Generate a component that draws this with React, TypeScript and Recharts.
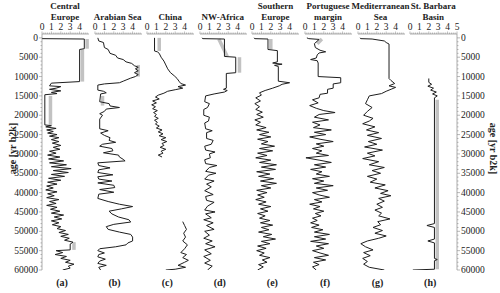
import { LineChart, Line, XAxis, YAxis } from "recharts"

// [age in yr b2k, value]
type Pt = [number, number]

const titles = [
  ["Central", "Europe"],
  ["", "Arabian Sea"],
  ["", "China"],
  ["", "NW-Africa"],
  ["Southern", "Europe"],
  ["Portuguese", "margin"],
  ["Mediterranean", "Sea"],
  ["St. Barbara", "Basin"],
]
const panelLetters = ["(a)", "(b)", "(c)", "(d)", "(e)", "(f)", "(g)", "(h)"]

const valueTicks = [0, 0.2, 0.4, 0.6, 0.8, 1, 1.2, 1.4, 1.6, 1.8, 2, 2.2, 2.4, 2.6, 2.8, 3, 3.2, 3.4, 3.6, 3.8, 4, 4.2, 4.4, 4.6, 4.8]
const valueTicksH = [...valueTicks, 5]
const ageMajor = [0, 5000, 10000, 15000, 20000, 25000, 30000, 35000, 40000, 45000, 50000, 55000, 60000]

const centralEurope: Pt[] = [
  [0, 0], [200, 0], [300, 4.5], [2800, 4.5], [3000, 4.0], [11300, 4.0], [11700, 1.0], [12400, 0.8], [12600, 2.0],
  [13000, 1.5], [13300, 0.8], [13700, 2.0], [14100, 1.0], [14400, 1.6], [14700, 0.3], [22500, 0.3], [22700, 1.0],
  [23000, 0.4], [23400, 1.5], [23800, 0.5], [24200, 1.2], [24600, 0.6], [25000, 1.6], [25400, 0.8], [25800, 1.8],
  [26300, 1.0], [26800, 1.8], [27200, 1.1], [27800, 2.0], [28300, 1.2], [28800, 1.9], [29300, 0.8], [29800, 1.5],
  [30300, 0.6], [30800, 1.9], [31300, 0.7], [31800, 2.3], [32300, 0.8], [32800, 2.6], [33300, 1.0], [33800, 3.1],
  [34300, 1.2], [34800, 2.8], [35300, 1.0], [35800, 2.4], [36300, 0.7], [36800, 2.0], [37300, 0.6], [37800, 1.6],
  [38300, 0.5], [38800, 1.2], [39300, 0.4], [39800, 1.6], [40300, 0.6], [40800, 1.3], [41300, 0.5], [41800, 1.8],
  [42300, 0.8], [42800, 1.5], [43300, 0.5], [43800, 1.6], [44300, 0.9], [44800, 1.9], [45300, 1.0], [45800, 2.3],
  [46300, 1.3], [46800, 2.1], [47300, 1.0], [47800, 1.8], [48300, 1.1], [48800, 2.0], [49300, 1.6], [49800, 2.5],
  [50300, 1.8], [50800, 2.8], [51300, 2.0], [51800, 2.9], [52300, 2.4], [52800, 3.3], [53300, 3.0], [54800, 3.0],
  [55000, 1.5], [55500, 2.2], [56000, 1.4], [56500, 2.6], [57000, 2.0], [57500, 3.0], [58000, 2.5], [58500, 3.4],
  [59000, 2.8], [59500, 3.0], [60000, 2.2],
]

const arabianSea: Pt[] = [
  [0, 0.3], [800, 0.4], [1200, 0.9], [2500, 1.0], [3000, 1.4], [4000, 1.6], [4500, 2.2], [5200, 2.4], [5600, 3.0],
  [6200, 3.3], [6600, 3.9], [7200, 4.2], [7600, 4.6], [8000, 4.3], [8500, 4.6], [9000, 4.2], [9500, 4.6], [10000, 4.3],
  [10400, 3.8], [10800, 3.4], [11200, 3.0], [11600, 2.6], [11900, 1.0], [12200, 0.3], [13500, 0.3], [13800, 0.9],
  [14200, 1.2], [14500, 0.6], [16500, 0.5], [17000, 1.5], [17600, 1.6], [18000, 2.6], [18400, 1.2], [19000, 1.0],
  [19600, 0.5], [20000, 0.8], [21000, 0.5], [23500, 0.5], [24000, 1.4], [24600, 0.6], [25200, 1.0], [25800, 1.6],
  [26500, 1.5], [27000, 2.2], [27500, 0.8], [28000, 0.5], [28600, 1.8], [29200, 1.9], [29700, 0.9], [30300, 2.5],
  [30800, 2.6], [31400, 3.0], [31800, 3.2], [32300, 0.3], [33000, 0.4], [33600, 1.6], [34100, 0.4], [34800, 0.3],
  [35400, 1.9], [35900, 0.3], [36500, 0.4], [37000, 1.8], [37500, 0.3], [38100, 2.0], [38700, 2.1], [39200, 0.5],
  [39900, 2.0], [40400, 0.4], [41500, 0.3], [42300, 1.4], [43000, 2.6], [43600, 4.0], [44200, 2.8], [44800, 1.5],
  [45500, 1.8], [46300, 2.5], [47000, 3.6], [47600, 3.8], [48200, 2.0], [48800, 1.2], [49500, 1.4], [50200, 2.6],
  [50800, 3.8], [51500, 4.0], [52500, 4.0], [53000, 3.5], [53500, 3.3], [54000, 2.2], [54500, 0.5], [55000, 0.3],
  [55600, 1.0], [56000, 0.4], [56600, 0.3], [57200, 1.1], [57700, 0.5], [58300, 0.3], [58800, 1.2], [59300, 0.4],
  [60000, 0.6],
]

const chinaUpper: Pt[] = [
  [0, 0.8], [3400, 0.8], [3600, 1.1], [4000, 1.3], [5000, 1.5], [6000, 1.8], [7000, 2.0], [8000, 2.2], [9000, 2.5],
  [9800, 2.9], [10500, 3.2], [11200, 3.4], [11800, 3.6], [12200, 4.1], [12600, 3.3], [13000, 3.8], [13400, 3.0],
  [13800, 2.2], [14300, 1.8], [14800, 1.2], [15300, 0.9], [15800, 1.3], [16300, 0.6], [16800, 1.0], [17300, 0.5],
  [17800, 0.9], [18300, 0.6], [18800, 1.1], [19300, 0.7], [19800, 1.0], [20300, 0.8], [20800, 1.2], [21300, 0.8],
  [21800, 1.1], [22300, 0.9], [22800, 1.3], [23300, 1.0], [23800, 1.6], [24300, 1.2], [24800, 1.7], [25300, 1.3],
  [25800, 2.0], [26300, 1.5], [26800, 2.1], [27300, 1.6], [27800, 1.8], [28300, 1.4], [28800, 2.0], [29300, 1.5],
  [29800, 1.7], [30300, 1.2], [30800, 1.6],
]
const chinaLower: Pt[] = [
  [47500, 3.8], [48500, 4.0], [49500, 4.2], [50500, 3.9], [51500, 4.1], [52500, 3.8], [53500, 4.3], [54500, 4.0],
  [55500, 3.6], [56000, 4.2], [56800, 3.8], [57500, 4.4], [58000, 4.0], [58800, 3.3], [59300, 4.1], [59800, 3.0],
  [60000, 2.0],
]

const nwAfrica: Pt[] = [
  [0, 0.2], [200, 0.3], [300, 2.6], [4800, 2.6], [5000, 3.8], [9000, 3.8], [9200, 2.8], [13000, 2.8], [13300, 2.5],
  [13600, 2.9], [14000, 2.6], [14500, 1.5], [15000, 0.6], [16500, 0.5], [17000, 1.0], [18000, 0.8], [18500, 0.4],
  [20000, 0.4], [20500, 1.0], [21500, 0.9], [22000, 0.5], [23500, 0.6], [24000, 1.3], [24500, 0.7], [26000, 0.7],
  [26500, 1.4], [27500, 1.2], [28000, 0.5], [29000, 0.6], [29500, 1.6], [30000, 1.0], [31000, 1.1], [31500, 0.5],
  [32500, 0.6], [33000, 1.8], [33500, 1.0], [34500, 0.6], [35000, 1.7], [35500, 0.9], [36500, 0.5], [37000, 1.5],
  [37800, 0.7], [38500, 1.2], [39500, 0.5], [40500, 1.4], [41000, 0.6], [42000, 0.7], [42500, 1.5], [43500, 0.8],
  [44500, 0.5], [45000, 1.6], [45500, 0.6], [46500, 1.2], [47000, 0.4], [47800, 1.4], [48500, 0.7], [49500, 1.5],
  [50000, 0.5], [51000, 1.0], [51800, 0.4], [52500, 1.3], [53200, 0.6], [54000, 1.6], [54800, 0.5], [55800, 1.2],
  [56500, 0.4], [57500, 1.1], [58200, 0.5], [59000, 1.3], [60000, 0.8],
]

const southernEurope: Pt[] = [
  [0, 0.2], [200, 0.3], [300, 1.7], [3000, 1.7], [3300, 2.7], [6200, 2.7], [6500, 2.2], [6800, 3.2], [7100, 2.4],
  [7400, 2.8], [11200, 2.8], [11600, 4.0], [12000, 3.2], [12400, 2.9], [13000, 2.2], [13600, 1.4], [14200, 0.8],
  [14800, 1.0], [15500, 0.4], [16300, 0.9], [17000, 0.3], [17800, 0.8], [18500, 0.4], [19200, 1.1], [19800, 0.5],
  [20500, 1.2], [21200, 0.3], [21800, 0.9], [22500, 0.4], [23200, 1.5], [23800, 0.5], [24400, 1.8], [25000, 0.8],
  [25600, 2.0], [26200, 0.6], [26800, 1.7], [27400, 1.0], [28000, 2.4], [28600, 0.8], [29200, 2.2], [29800, 0.6],
  [30400, 1.6], [31000, 0.4], [31600, 2.0], [32200, 0.8], [32800, 2.6], [33400, 1.0], [34000, 2.5], [34600, 0.5],
  [35200, 1.9], [35800, 0.7], [36400, 2.3], [37000, 0.9], [37600, 2.6], [38200, 1.0], [38800, 2.0], [39400, 0.5],
  [40000, 1.6], [40600, 0.6], [41200, 1.3], [41800, 0.4], [42400, 1.5], [43000, 0.7], [43600, 2.0], [44200, 0.9],
  [44800, 1.7], [45400, 0.6], [46000, 1.4], [46600, 0.8], [47200, 1.9], [47800, 0.9], [48400, 2.2], [49000, 1.0],
  [49600, 1.8], [50200, 0.7], [50800, 2.1], [51400, 1.2], [52000, 2.5], [52600, 1.0], [53200, 1.9], [53800, 0.6],
  [54400, 1.5], [55000, 0.5], [55600, 1.3], [56200, 0.8], [56800, 1.9], [57400, 1.1], [58000, 1.6], [58600, 0.7],
  [59200, 1.2], [60000, 0.6],
]

const portugueseMargin: Pt[] = [
  [0, 0.2], [200, 0.4], [400, 1.5], [1500, 1.0], [2500, 1.1], [3200, 1.6], [3600, 2.2], [3900, 1.5], [4400, 1.3],
  [5200, 1.2], [5600, 0.6], [5900, 1.3], [6500, 1.4], [10000, 1.4], [10300, 3.8], [11600, 3.8], [11900, 3.0],
  [13000, 3.0], [13300, 2.4], [14300, 2.4], [14600, 1.6], [15500, 1.5], [16000, 0.8], [16800, 1.4], [17500, 0.5],
  [18200, 1.2], [18800, 2.0], [19300, 3.2], [19800, 1.5], [20500, 1.0], [21200, 2.5], [21800, 0.8], [22500, 1.6],
  [23200, 0.9], [23800, 2.8], [24400, 1.0], [25000, 2.2], [25600, 0.5], [26200, 1.6], [26800, 3.0], [27400, 1.2],
  [28000, 2.0], [28600, 0.8], [29200, 1.8], [29800, 1.2], [30400, 2.5], [31000, 0.1], [31600, 1.5], [32200, 2.8],
  [32800, 1.0], [33400, 2.2], [34000, 0.6], [34600, 1.8], [35200, 1.2], [35800, 2.6], [36400, 0.8], [37000, 2.0],
  [37600, 1.0], [38200, 3.0], [38800, 1.2], [39400, 2.4], [40000, 0.8], [40600, 1.5], [41200, 2.6], [41800, 1.0],
  [42400, 1.8], [43000, 0.5], [43600, 1.6], [44200, 0.9], [44800, 2.0], [45400, 1.1], [46000, 1.7], [46600, 0.8],
  [47200, 1.3], [47800, 0.6], [48400, 1.5], [49000, 0.7], [49600, 1.9], [50200, 1.0], [50800, 2.6], [51400, 1.0],
  [52000, 2.2], [52600, 0.6], [53200, 2.5], [53800, 1.2], [54400, 2.0], [55000, 0.8], [55600, 1.6], [56200, 2.5],
  [56800, 1.0], [57400, 2.2], [58000, 0.9], [58600, 1.5], [59200, 0.8], [60000, 1.2],
]

const mediterranean: Pt[] = [
  [0, 0.2], [200, 0.3], [300, 1.5], [800, 2.8], [1200, 3.0], [1600, 3.3], [10500, 3.3], [11000, 3.5], [11800, 3.9],
  [12400, 3.3], [12800, 4.0], [13200, 3.6], [13800, 3.0], [14400, 2.5], [15000, 1.2], [16000, 1.0], [17000, 0.8],
  [18000, 1.5], [19000, 1.0], [20000, 0.6], [20800, 1.6], [21500, 1.2], [22200, 0.5], [23000, 1.8], [23800, 0.9],
  [24500, 2.2], [25200, 1.0], [26000, 2.5], [26800, 1.1], [27500, 2.0], [28200, 0.7], [29000, 2.6], [29800, 1.0],
  [30500, 1.8], [31200, 0.5], [32000, 2.2], [32800, 1.2], [33500, 2.8], [34300, 1.5], [35000, 2.4], [35800, 1.0],
  [36500, 2.0], [37300, 1.3], [38000, 2.9], [38800, 1.8], [39500, 3.2], [40200, 2.4], [40800, 3.5], [41500, 2.2],
  [42200, 2.8], [43000, 2.0], [43800, 2.6], [44500, 1.8], [45300, 2.5], [46000, 2.2], [46800, 3.4], [47500, 2.1],
  [48300, 2.4], [49000, 1.6], [49800, 2.6], [50500, 1.8], [51200, 3.0], [51800, 2.2], [52500, 1.0], [53200, 0.3],
  [54000, 0.8], [54800, 1.6], [55500, 0.6], [56300, 1.3], [57000, 0.5], [57800, 1.0], [58500, 0.6], [59300, 1.2],
  [60000, 2.8],
]

const stBarbara: Pt[] = [
  [10500, 2.0], [11500, 2.0], [12000, 2.3], [12500, 1.9], [13000, 2.5], [13500, 2.2], [14000, 2.8], [14500, 2.4],
  [15000, 2.9], [15500, 2.6], [48000, 2.6], [48500, 1.8], [49000, 2.6], [52000, 2.6], [52500, 1.9], [53000, 2.6],
  [57000, 2.6], [57300, 2.9], [57600, 2.6], [59800, 2.6], [60000, 0.3],
]

// grey uncertainty bands, one short segment each (only the visible parts)
const bandsA: Pt[][] = [[[300, 4.8], [2800, 4.8]], [[3000, 4.3], [11300, 4.3]], [[15000, 0.9], [22500, 0.9]], [[52800, 3.4], [54800, 3.4]]]
const bandsB: Pt[][] = [[[7000, 4.6], [10000, 4.6]], [[15000, 0.8], [17500, 0.8]]]
const bandsC: Pt[][] = [[[0, 1.3], [3400, 1.3]]]
const bandsD: Pt[][] = [[[300, 2.0], [4800, 2.9]], [[5000, 4.2], [9000, 4.2]]]
const bandsE: Pt[][] = [[[300, 2.0], [3000, 2.0]]]
const bandsF: Pt[][] = [[[300, 1.8], [1500, 1.3]]]
const bandsG: Pt[][] = []
const bandsH: Pt[][] = [[[16000, 2.9], [59800, 2.9]]]

const seriesList: Pt[][][] = [
  [centralEurope], [arabianSea], [chinaUpper, chinaLower], [nwAfrica],
  [southernEurope], [portugueseMargin], [mediterranean], [stBarbara],
]
const bandList = [bandsA, bandsB, bandsC, bandsD, bandsE, bandsF, bandsG, bandsH]

const H = 293
const PLOT_TOP = 34
const PLOT_BOTTOM = 270
const TOP_AXIS_H = 14
const PANEL_X0 = 42
const PANEL_STEP = 52.6
const PANEL_W = 47
const AXIS_W = 42
const PAD = 5
const FONT = "'Liberation Serif', 'Times New Roman', serif"

const toRows = (pts: Pt[]) => pts.map(([age, v]) => ({ age, v }))

const TopTick = (props: any) => {
  const { x, y, payload, maxLabel } = props
  const v = payload.value
  const major = Math.abs(v - Math.round(v)) < 1e-6
  return (
    <g>
      <line x1={x} x2={x} y1={y} y2={y - (major ? 2.5 : 1.5)} stroke="#8a8a8a" strokeWidth={0.6} />
      {major && v <= maxLabel && (
        <text x={x} y={y - 4} textAnchor="middle" fontSize={9.5} fontFamily={FONT} fill="#222">{v}</text>
      )}
    </g>
  )
}

const SideTick = (props: any) => {
  const { x, y, payload, side } = props
  const major = payload.value % 5000 === 0
  const dir = side === "left" ? -1 : 1
  return (
    <g>
      <line x1={x} x2={x + dir * (major ? 3 : 1.5)} y1={y} y2={y} stroke="#8a8a8a" strokeWidth={0.6} />
      {major && (
        <text x={x + dir * 4} y={y + 3} textAnchor={side === "left" ? "end" : "start"} fontSize={9.5} fontFamily={FONT} fill="#222">
          {payload.value}
        </text>
      )}
    </g>
  )
}

const ageTicks = ageMajor.flatMap((a, i) => (i === 0 ? [a] : [a - 4000, a - 3000, a - 2000, a - 1000, a]))

function Panel({ index }: { index: number }) {
  const side = index === 0 ? "left" : index === 7 ? "right" : null
  const plotLeft = PANEL_X0 + PANEL_STEP * index
  const lw = side === "left" ? AXIS_W : 0
  const rw = side === "right" ? AXIS_W : 0
  return (
    <div style={{ position: "absolute", left: plotLeft - lw - PAD, top: 0 }}>
      <LineChart
        width={PANEL_W + lw + rw + 2 * PAD}
        height={H}
        layout="vertical"
        margin={{ top: PLOT_TOP - TOP_AXIS_H, bottom: H - PLOT_BOTTOM, left: PAD, right: PAD }}
      >
        <XAxis
          type="number"
          orientation="top"
          domain={[0, 5]}
          ticks={index === 7 ? valueTicksH : valueTicks}
          interval={0}
          height={TOP_AXIS_H}
          tickSize={0}
          tickMargin={0}
          tickLine={false}
          axisLine={{ stroke: "#8a8a8a", strokeWidth: 0.7 }}
          tick={(p: any) => <TopTick {...p} maxLabel={index === 7 ? 5 : 4} />}
          allowDataOverflow
        />
        <YAxis
          type="number"
          dataKey="age"
          domain={[-1000, 60000]}
          hide={!side}
          orientation={side === "right" ? "right" : "left"}
          width={side ? AXIS_W : 0}
          ticks={ageTicks}
          interval={0}
          tickSize={0}
          tickMargin={0}
          tickLine={false}
          axisLine={{ stroke: "#8a8a8a", strokeWidth: 0.7 }}
          tick={(p: any) => <SideTick {...p} side={side} />}
          allowDataOverflow
        />
        {bandList[index].map((seg, j) => (
          <Line key={`b${j}`} data={toRows(seg)} dataKey="v" stroke="#c2c2c2" strokeWidth={3.5} dot={false} isAnimationActive={false} />
        ))}
        {seriesList[index].map((seg, j) => (
          <Line key={`s${j}`} data={toRows(seg)} dataKey="v" stroke="#1e1e1e" strokeWidth={1} dot={false} isAnimationActive={false} />
        ))}
      </LineChart>
    </div>
  )
}

export default function App() {
  return (
    <div style={{ position: "absolute", left: 0, top: 0, width: 500, height: H, background: "#fff", fontFamily: FONT, overflow: "hidden" }}>
      {titles.map((t, i) => {
        const cx = PANEL_X0 + PANEL_STEP * i + 23
        return (
          <div key={i} style={{ position: "absolute", left: cx - 35, width: 70, top: 1, textAlign: "center", fontWeight: "bold", fontSize: 9, lineHeight: "10.5px", color: "#222", whiteSpace: "nowrap" }}>
            <div style={{ height: 10.5 }}>{t[0]}</div>
            <div>{t[1]}</div>
          </div>
        )
      })}
      {seriesList.map((_, i) => (
        <Panel key={i} index={i} />
      ))}
      {panelLetters.map((l, i) => (
        <div key={l} style={{ position: "absolute", left: PANEL_X0 + PANEL_STEP * i, width: 40, top: 277, textAlign: "center", fontWeight: "bold", fontSize: 10, color: "#222" }}>
          {l}
        </div>
      ))}
      <div style={{ position: "absolute", left: 12 - 40, top: 150 - 7, width: 80, textAlign: "center", transform: "rotate(-90deg)", fontWeight: "bold", fontSize: 10, color: "#222" }}>
        age [yr b2k]
      </div>
      <div style={{ position: "absolute", left: 493 - 40, top: 150 - 7, width: 80, textAlign: "center", transform: "rotate(90deg)", fontWeight: "bold", fontSize: 10, color: "#222" }}>
        age [yr b2k]
      </div>
    </div>
  )
}
